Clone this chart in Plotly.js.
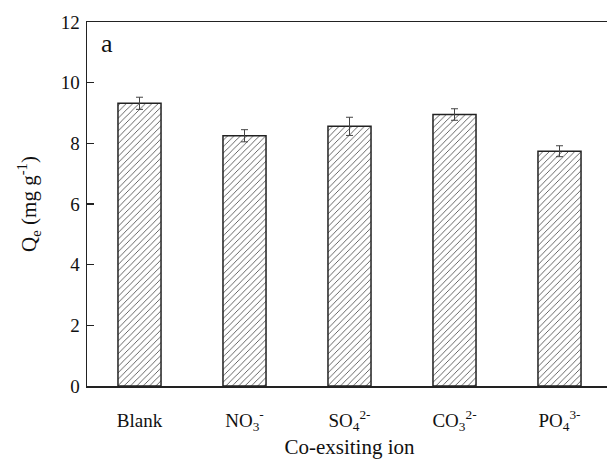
<!DOCTYPE html>
<html>
<head>
<meta charset="utf-8">
<script src="https://cdn.plot.ly/plotly-3.0.1.min.js"></script>
<style>
html, body { margin: 0; padding: 0; overflow: hidden; background: #fff; }
#chart { width: 613px; height: 463px; }
</style>
</head>
<body>
<div id="chart"></div>
<script>
const categories = ["Blank", "NO<sub>3</sub><sup>-</sup>", "SO<sub>4</sub><sup>2-</sup>", "CO<sub>3</sub><sup>2-</sup>", "PO<sub>4</sub><sup>3-</sup>"];
const qeValues = [9.32, 8.25, 8.56, 8.95, 7.74];
const qeErrors = [0.20, 0.20, 0.30, 0.19, 0.18];
const yTicks = [0, 2, 4, 6, 8, 10, 12];

const serif = "'Liberation Serif', 'Times New Roman', serif";

const trace = {
  type: "bar",
  x: categories.map((c, i) => i),
  y: qeValues,
  width: 0.41,
  marker: {
    color: "#ffffff",
    line: { color: "#222222", width: 1.5 },
    pattern: { shape: "/", fgcolor: "#555555", bgcolor: "#ffffff", size: 4.5, solidity: 0.2 }
  },
  error_y: { type: "data", array: qeErrors, visible: true, color: "#444444", thickness: 1, width: 3.5 },
  hoverinfo: "skip"
};

const layout = {
  width: 613,
  height: 463,
  margin: { l: 87, r: 1, t: 22, b: 77 },
  paper_bgcolor: "#ffffff",
  plot_bgcolor: "#ffffff",
  showlegend: false,
  font: { family: serif, color: "#111111" },
  xaxis: {
    range: [-0.5, 4.5],
    tickvals: [0, 1, 2, 3, 4],
    ticktext: categories,
    ticks: "",
    showgrid: false,
    zeroline: false,
    showline: true,
    linecolor: "#222222",
    linewidth: 1.5,
    mirror: true,
    tickfont: { family: serif, size: 19, color: "#111111" },
    ticklabelstandoff: 17,
    title: { text: "Co-exsiting ion", font: { family: serif, size: 21, color: "#111111" }, standoff: 6 }
  },
  yaxis: {
    range: [0, 12],
    tickvals: yTicks,
    ticktext: yTicks.map(String),
    ticks: "inside",
    ticklen: 7,
    tickwidth: 1.5,
    tickcolor: "#222222",
    showgrid: false,
    zeroline: false,
    showline: true,
    linecolor: "#222222",
    linewidth: 1.5,
    mirror: true,
    tickfont: { family: serif, size: 19, color: "#111111" },
    ticklabelstandoff: 2,
    title: { text: "Q<sub>e</sub> (mg g<sup>-1</sup>)", font: { family: serif, size: 21, color: "#111111" }, standoff: 18 }
  },
  annotations: [{
    text: "a",
    xref: "paper", yref: "paper",
    x: 0.022, y: 0.985,
    xanchor: "left", yanchor: "top",
    showarrow: false,
    font: { family: serif, size: 26, color: "#111111" }
  }]
};

Plotly.newPlot("chart", [trace], layout, { displayModeBar: false, staticPlot: true });
</script>
</body>
</html>
